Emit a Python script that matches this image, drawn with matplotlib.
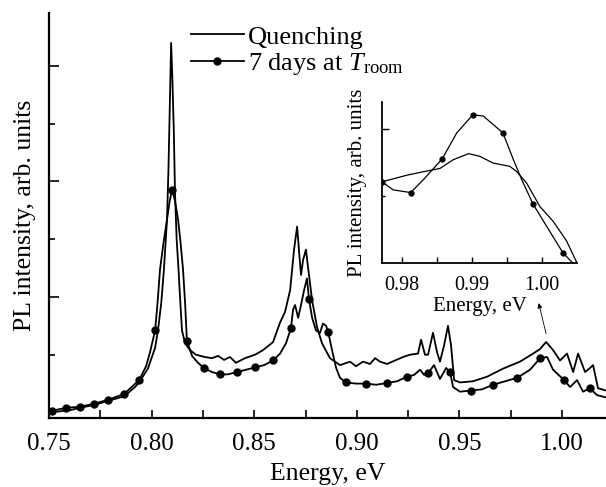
import numpy as np
import matplotlib
matplotlib.use("Agg")
import matplotlib.pyplot as plt

plt.rcParams['font.family'] = ['Liberation Serif', 'DejaVu Serif']
plt.rcParams['mathtext.fontset'] = 'custom'
plt.rcParams['mathtext.rm'] = 'Liberation Serif'
plt.rcParams['mathtext.it'] = 'Liberation Serif:italic'

# main spectrum, quenched sample (energy in eV, intensity in arb. units)
energy_q = [0.7500, 0.7554, 0.7602, 0.7651, 0.7719, 0.7788, 0.7866, 0.7919, 0.7939, 0.7982,
            0.8017, 0.8031, 0.8047, 0.8060, 0.8075, 0.8082, 0.8088, 0.8095, 0.8101, 0.8108,
            0.8114, 0.8122, 0.8131, 0.8140, 0.8148, 0.8163, 0.8187, 0.8216, 0.8260, 0.8294,
            0.8324, 0.8353, 0.8382, 0.8411, 0.8455, 0.8504, 0.8543, 0.8592, 0.8626, 0.8650,
            0.8675, 0.8694, 0.8709, 0.8719, 0.8728, 0.8738, 0.8752, 0.8762, 0.8782, 0.8806,
            0.8830, 0.8869, 0.8918, 0.8967, 0.8996, 0.9030, 0.9064, 0.9089, 0.9113, 0.9147,
            0.9186, 0.9225, 0.9259, 0.9298, 0.9313, 0.9332, 0.9347, 0.9371, 0.9391, 0.9405,
            0.9425, 0.9444, 0.9459, 0.9474, 0.9503, 0.9566, 0.9635, 0.9713, 0.9795, 0.9859,
            0.9893, 0.9922, 0.9937, 0.9956, 0.9990, 1.0024, 1.0054, 1.0078, 1.0112, 1.0136,
            1.0151, 1.0175, 1.0214]
pl_q = [0.0, 0.01, 0.02, 0.04, 0.065, 0.10, 0.14, 0.22, 0.26, 0.38,
        0.56, 0.71, 0.95, 1.24, 1.67, 2.10, 2.60, 3.20, 2.90, 2.45,
        1.90, 1.50, 1.24, 0.95, 0.71, 0.60, 0.54, 0.50, 0.48, 0.47,
        0.49, 0.455, 0.48, 0.43, 0.47, 0.50, 0.54, 0.61, 0.78, 0.87,
        1.06, 1.41, 1.61, 1.38, 1.19, 1.32, 1.41, 1.26, 0.97, 0.74,
        0.60, 0.47, 0.41, 0.44, 0.40, 0.44, 0.42, 0.47, 0.44, 0.42,
        0.45, 0.48, 0.50, 0.51, 0.63, 0.50, 0.50, 0.69, 0.52, 0.44,
        0.58, 0.75, 0.58, 0.28, 0.26, 0.27, 0.31, 0.38, 0.44, 0.51,
        0.55, 0.61, 0.58, 0.54, 0.45, 0.51, 0.35, 0.51, 0.35, 0.385,
        0.41, 0.21, 0.19]

# main spectrum, after 7 days at room temperature
energy_7 = [0.7500, 0.7515, 0.7583, 0.7651, 0.7719, 0.7788, 0.7866, 0.7939, 0.7973, 0.7992,
            0.8017, 0.8029, 0.8041, 0.8058, 0.8075, 0.8088, 0.8100, 0.8114, 0.8129, 0.8141,
            0.8153, 0.8163, 0.8172, 0.8197, 0.8226, 0.8255, 0.8294, 0.8333, 0.8372,
            0.8416, 0.8460, 0.8504, 0.8548, 0.8592, 0.8626, 0.8655, 0.8679, 0.8689, 0.8699,
            0.8714, 0.8728, 0.8743, 0.8757, 0.8767, 0.8782, 0.8801, 0.8821, 0.8835, 0.8850,
            0.8860, 0.8879, 0.8899, 0.8918, 0.8947, 0.8996, 0.9045, 0.9094, 0.9147, 0.9196,
            0.9245, 0.9279, 0.9308, 0.9328, 0.9347, 0.9376, 0.9405, 0.9435, 0.9454, 0.9469,
            0.9503, 0.9557, 0.9610, 0.9664, 0.9722, 0.9781, 0.9844, 0.9893, 0.9927, 0.9956,
            1.0010, 1.0039, 1.0073, 1.0102, 1.0136, 1.0170, 1.0214]
pl_7 = [0.00, 0.015, 0.04, 0.05, 0.075, 0.11, 0.16, 0.28, 0.40, 0.52,
        0.71, 0.95, 1.24, 1.47, 1.67, 1.83, 1.93, 1.83, 1.67, 1.47,
        1.24, 0.95, 0.62, 0.49, 0.43, 0.385, 0.35, 0.33, 0.33,
        0.35, 0.37, 0.39, 0.41, 0.45, 0.51, 0.60, 0.73, 0.89, 0.93,
        0.82, 0.93, 1.06, 1.16, 0.98, 0.82, 0.71, 0.69, 0.77, 0.75,
        0.70, 0.54, 0.385, 0.30, 0.26, 0.25, 0.25, 0.24, 0.255, 0.27,
        0.31, 0.325, 0.37, 0.325, 0.34, 0.41, 0.29, 0.385, 0.35, 0.22,
        0.18, 0.19, 0.20, 0.24, 0.27, 0.30, 0.37, 0.47, 0.48, 0.37,
        0.28, 0.22, 0.28, 0.18, 0.21, 0.15, 0.13]
marks_7 = [0.7515, 0.7583, 0.7651, 0.7719, 0.7788, 0.7866, 0.7939, 0.8017, 0.8100, 0.8172,
           0.8255, 0.8333, 0.8416, 0.8504, 0.8592, 0.8679, 0.8767, 0.8860, 0.8947, 0.9045,
           0.9147, 0.9245, 0.9347, 0.9454, 0.9557, 0.9664, 0.9781, 0.9893, 1.0010, 1.0136]

# inset: zoom on the ~0.99 eV band
inset_energy_q = [0.9771, 0.9807, 0.9830, 0.9854, 0.9873, 0.9895, 0.9911, 0.9930, 0.9954,
                  0.9964, 0.9978, 0.9997, 1.0016, 1.0035, 1.0050]
inset_pl_q = [1.21, 1.31, 1.36, 1.41, 1.54, 1.63, 1.59, 1.49, 1.44,
              1.36, 1.19, 0.84, 0.62, 0.33, 0.0]
inset_energy_7 = [0.9771, 0.9787, 0.9812, 0.9830, 0.9857, 0.9878, 0.9901, 0.9916, 0.9944,
                  0.9959, 0.9971, 0.9987, 1.0007, 1.0030, 1.0044]
inset_pl_7 = [1.21, 1.09, 1.05, 1.24, 1.55, 1.94, 2.21, 2.19, 1.94,
              1.54, 1.24, 0.88, 0.54, 0.15, 0.0]
inset_marks_7 = [0.9771, 0.9812, 0.9857, 0.9901, 0.9944, 0.9987, 1.0030]


def mark_index(xs, marks):
    xs = np.asarray(xs)
    return [int(np.argmin(np.abs(xs - m))) for m in marks]


def strip_axes(ax, lw):
    ax.spines['top'].set_visible(False)
    ax.spines['right'].set_visible(False)
    ax.spines['left'].set_linewidth(lw)
    ax.spines['bottom'].set_linewidth(lw)


W, H = 606, 487
fig = plt.figure(figsize=(W / 100, H / 100), dpi=100)

ax = fig.add_axes([49 / W, 1 - 418 / H, 557 / W, 405 / H])
ax.plot(energy_q, pl_q, color='k', lw=1.3, label='Quenching')
ax.plot(energy_7, pl_7, color='k', lw=1.3, marker='o', ms=5,
        markevery=mark_index(energy_7, marks_7), label=r'7 days at $T_{\rm room}$')
ax.set_xlim(0.75, 1.0214)
ax.set_ylim(-0.048, 3.459)
strip_axes(ax, 1.6)
ax.set_xticks([0.75, 0.80, 0.85, 0.90, 0.95, 1.00])
ax.set_xticklabels(['0.75', '0.80', '0.85', '0.90', '0.95', '1.00'])
ax.set_xticks([0.775, 0.825, 0.875, 0.925, 0.975], minor=True)
ax.set_yticks([1, 2, 3])
ax.set_yticklabels([])
ax.set_yticks([0.5, 1.5, 2.5], minor=True)
ax.tick_params(axis='x', which='both', direction='in', length=6, width=1.2,
               labelsize=18, pad=10.5)
ax.tick_params(axis='y', which='major', direction='in', length=7, width=1.2)
ax.tick_params(axis='y', which='minor', direction='in', length=4, width=1.2)
ax.set_xlabel('Energy, eV', fontsize=18.5, labelpad=6)
ax.set_ylabel('PL intensity, arb. units', fontsize=18.5, labelpad=6)

ax.legend(loc='upper left', bbox_to_anchor=(0.255, 0.97), frameon=False,
          fontsize=19, handlelength=2.0, handletextpad=0.15, labelspacing=0.1,
          borderpad=0, borderaxespad=0)

ax.annotate('', xy=(0.9883, 0.97), xytext=(0.9925, 0.66),
            arrowprops=dict(arrowstyle='-|>', lw=0.6, color='k', mutation_scale=7))

axi = fig.add_axes([382 / W, 1 - 263 / H, 195 / W, 161 / H])
axi.plot(inset_energy_q, inset_pl_q, color='k', lw=0.9)
axi.plot(inset_energy_7, inset_pl_7, color='k', lw=0.9, marker='o', ms=3.5,
         markevery=mark_index(inset_energy_7, inset_marks_7))
axi.set_xlim(0.9771, 1.005)
axi.set_ylim(0, 2.4)
strip_axes(axi, 1.3)
axi.set_xticks([0.98, 0.99, 1.00])
axi.set_xticklabels(['0.98', '0.99', '1.00'])
axi.set_xticks([0.985, 0.995], minor=True)
axi.set_yticks([2.0])
axi.set_yticklabels([])
axi.set_yticks([1.0], minor=True)
axi.tick_params(axis='x', which='both', direction='in', length=4, width=1,
                labelsize=14.5, pad=9.5)
axi.tick_params(axis='y', which='major', direction='in', length=5, width=1)
axi.tick_params(axis='y', which='minor', direction='in', length=2.5, width=1)
axi.set_xlabel('Energy, eV', fontsize=15, labelpad=1)
axi.set_ylabel('PL intensity, arb. units', fontsize=15, labelpad=7)

fig.savefig('out.png', dpi=100)
